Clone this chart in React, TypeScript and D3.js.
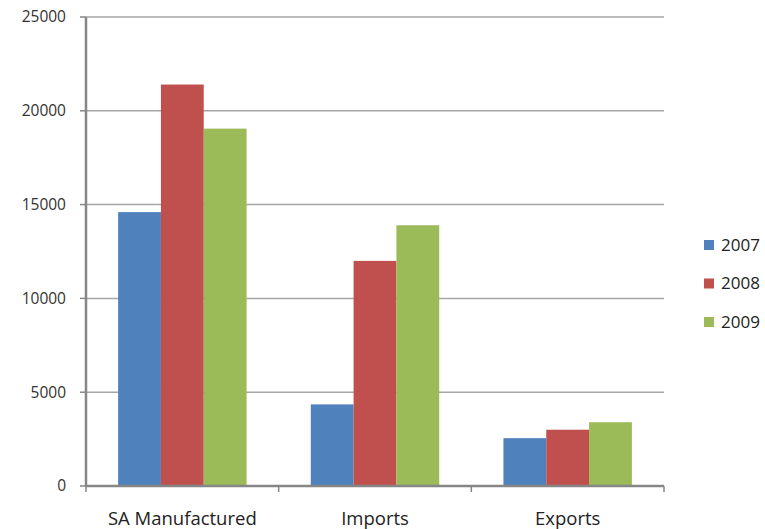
import React from "react";
import * as d3 from "d3";

const categories = ["SA Manufactured", "Imports", "Exports"];
const seriesNames = ["2007", "2008", "2009"];
const values2007 = [14600, 4350, 2550];
const values2008 = [21400, 12000, 3000];
const values2009 = [19050, 13900, 3400];
const yTicks = [0, 5000, 10000, 15000, 20000, 25000];
const colors = ["#4F81BD", "#C0504D", "#9BBB59"];

const W = 765;
const H = 529;
const left = 86;
const right = 664;
const top = 17;
const bottom = 486;

export default function App() {
  const series = [values2007, values2008, values2009];
  const x = d3.scaleBand<string>().domain(categories).range([left, right]).paddingInner(0).paddingOuter(0);
  const inner = d3.scaleBand<string>().domain(seriesNames).range([0, x.bandwidth()]).paddingOuter(0.75).paddingInner(0);
  const y = d3.scaleLinear().domain([0, 25000]).range([bottom, top]);
  const font = "'Open Sans', 'DejaVu Sans', sans-serif";
  const boundaries = [left, ...categories.map((c) => (x(c) as number) + x.bandwidth())];

  return (
    <svg width={W} height={H} style={{ position: "absolute", left: 0, top: 0 }} fontFamily={font}>
      <rect width={W} height={H} fill="#fff" />
      {yTicks.map((t) => (
        <g key={t}>
          {t > 0 && <line x1={left} x2={right} y1={y(t)} y2={y(t)} stroke="#A6A6A6" strokeWidth={1.5} />}
          <line x1={80} x2={left} y1={y(t)} y2={y(t)} stroke="#868686" strokeWidth={1.5} />
          <text x={66} y={y(t)} dy="0.35em" textAnchor="end" fontSize={15.5} fill="#333">
            {t}
          </text>
        </g>
      ))}
      {categories.map((c, ci) =>
        series.map((s, si) => (
          <rect
            key={c + si}
            x={(x(c) as number) + (inner(seriesNames[si]) as number)}
            y={y(s[ci])}
            width={inner.bandwidth()}
            height={y(0) - y(s[ci])}
            fill={colors[si]}
          />
        ))
      )}
      <line x1={left} x2={left} y1={top} y2={bottom + 1} stroke="#868686" strokeWidth={2.5} />
      <line x1={left} x2={right} y1={bottom} y2={bottom} stroke="#868686" strokeWidth={2.5} />
      {boundaries.map((b, i) => (
        <line key={i} x1={b} x2={b} y1={bottom} y2={bottom + 6} stroke="#868686" strokeWidth={1.5} />
      ))}
      {categories.map((c) => (
        <text key={c} x={(x(c) as number) + x.bandwidth() / 2} y={525} textAnchor="middle" fontSize={18.5} fill="#222">
          {c}
        </text>
      ))}
      {seriesNames.map((n, i) => (
        <g key={n} transform={`translate(704, ${245 + i * 38.5})`}>
          <rect x={0} y={-5} width={10} height={10} fill={colors[i]} />
          <text x={17} y={0} dy="0.35em" fontSize={17} fill="#222">
            {n}
          </text>
        </g>
      ))}
    </svg>
  );
}
